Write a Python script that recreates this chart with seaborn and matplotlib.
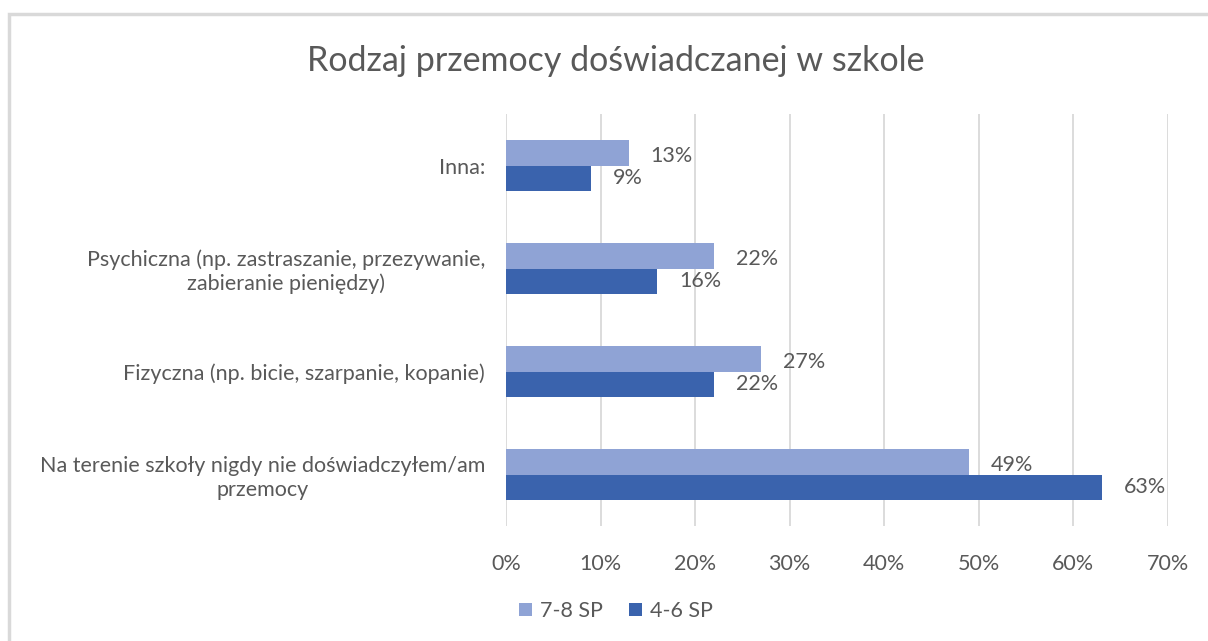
import matplotlib
matplotlib.use("Agg")
import matplotlib.pyplot as plt
import seaborn as sns
import pandas as pd
from matplotlib.patches import Rectangle

categories = [
    "Inna:",
    "Psychiczna (np. zastraszanie, przezywanie,\nzabieranie pieniędzy)",
    "Fizyczna (np. bicie, szarpanie, kopanie)",
    "Na terenie szkoły nigdy nie doświadczyłem/am\nprzemocy",
]
series_names = ["7-8 SP", "4-6 SP"]
values_78 = [13, 22, 27, 49]
values_46 = [9, 16, 22, 63]
x_ticks = [0, 10, 20, 30, 40, 50, 60, 70]
title = "Rodzaj przemocy doświadczanej w szkole"

colors = ["#8FA3D5", "#3A63AD"]

df = pd.DataFrame({
    "cat": categories * 2,
    "series": [series_names[0]] * 4 + [series_names[1]] * 4,
    "val": values_78 + values_46,
})

sns.set_theme(style="white")
plt.rcParams["font.family"] = ["Lato", "DejaVu Sans"]
text_color = "#595959"
fs = 15.5

fig = plt.figure(figsize=(12.08, 6.41), dpi=100)
ax = fig.add_axes([506 / 1208, 1 - 526 / 641, (1168 - 506) / 1208, (526 - 114) / 641])

sns.barplot(data=df, y="cat", x="val", hue="series", order=categories,
            hue_order=series_names, palette=colors, orient="h",
            width=0.49, saturation=1, linewidth=0, ax=ax, legend=True)

for i, container in enumerate(ax.containers):
    for bar in container:
        w = bar.get_width()
        dy = 0.03 if i == 0 else 0.0
        ax.text(w + 2.3, bar.get_y() + bar.get_height() / 2 + dy, f"{w:.0f}%",
                va="center", ha="left", fontsize=fs, color=text_color)

ax.set_xlim(0, 70)
ax.set_xticks(x_ticks)
ax.set_xticklabels([f"{t}%" for t in x_ticks], fontsize=fs, color=text_color)
ax.set_yticks(range(len(categories)))
ax.set_yticklabels(categories, fontsize=fs, color=text_color, multialignment="center")
ax.tick_params(axis="x", length=0, pad=20)
ax.tick_params(axis="y", length=0, pad=15)
ax.set_xlabel("")
ax.set_ylabel("")
ax.xaxis.grid(True, color="#D9D9D9", linewidth=1.3)
ax.set_axisbelow(True)
for s in ax.spines.values():
    s.set_visible(False)

fig.text(616 / 1208, 1 - 61 / 641, title, ha="center", va="center",
         fontsize=24.5, color=text_color)

leg = ax.legend(loc="center", bbox_to_anchor=(616 / 1208, 1 - 611 / 641),
                bbox_transform=fig.transFigure, ncol=2, frameon=False,
                fontsize=fs, handlelength=0.6, handleheight=0.6,
                handletextpad=0.4, columnspacing=1.2)
for t in leg.get_texts():
    t.set_color(text_color)

fig.patches.append(Rectangle((9 / 1208, -0.05), 1.1, 1 - 14 / 641 + 0.05,
                             transform=fig.transFigure, fill=False,
                             edgecolor="#D9D9D9", linewidth=2.5))

fig.savefig("out.png", dpi=100)
